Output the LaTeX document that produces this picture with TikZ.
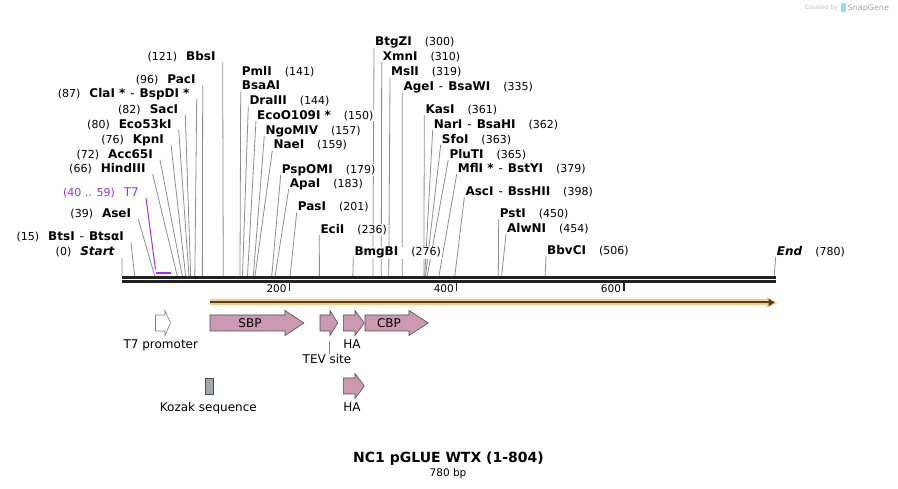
\documentclass[tikz,border=0pt]{standalone}
\usepackage{fontspec}
\setmainfont{DejaVu Sans}
\usetikzlibrary{arrows.meta,backgrounds}
\definecolor{cutgray}{HTML}{8E8E8E}
\definecolor{featpink}{HTML}{CC99B2}
\definecolor{featedge}{HTML}{4D4D4D}
\definecolor{kozakgray}{HTML}{A0A7AF}
\definecolor{t7purple}{HTML}{9B30FF}
\definecolor{orfcol}{HTML}{FFCB7A}
\definecolor{orfdark}{HTML}{4A4030}
\definecolor{bbdark}{HTML}{222222}
\newcommand\bpnum[1]{{\mdseries\fontsize{11}{13}\selectfont(#1)}}
\newcommand\esep{\hspace{5pt}{\mdseries -}\hspace{5pt}}
% feature arrow: style, start, head start, tip, centre line
\newcommand\featarrow[5]{%
  \draw[#1] (#2,{#5-8}) -- (#3,{#5-8}) -- (#3,{#5-12.5}) -- (#4,#5) -- (#3,{#5+12.5}) -- (#3,{#5+8}) -- (#2,{#5+8}) -- cycle;}
\tikzset{
    cutline/.style={draw=cutgray, line width=0.8pt}, % line from a site to its label
    llab/.style={anchor=base east, inner xsep=1pt, inner ysep=0pt, fill=white, font=\fontsize{12}{14}\selectfont\bfseries},
    rlab/.style={anchor=base west, inner xsep=1pt, inner ysep=0pt, fill=white, font=\fontsize{12}{14}\selectfont\bfseries},
    bbline/.style={draw=bbdark, line width=2.7pt},
    tickline/.style={draw=bbdark, line width=1.6pt},
    ticklab/.style={anchor=base east, inner sep=0pt, font=\fontsize{10.5}{12}\selectfont},
    feat/.style={fill=featpink, draw=featedge, line width=0.6pt},
    t7feat/.style={fill=white, draw=gray, line width=0.6pt},
    flab/.style={anchor=base, inner sep=1pt, font=\fontsize{12}{14}\selectfont},
    fin/.style={anchor=center, inner sep=0pt, font=\fontsize{12}{14}\selectfont}
}

\begin{document}
\begin{tikzpicture}[x=1pt, y=-1pt]
    \def\xo{122.1} \def\bpw{0.836} \def\ytop{276}
    \useasboundingbox (0,0) rectangle (898,489);

    % backbone and ticks
    \draw[bbline] (122,277.4) -- (775.7,277.4);
    \draw[bbline] (122,281.4) -- (775.7,281.4);
    \foreach \t in {200,400,600} {
        \coordinate (tk\t) at ({\xo+\t*\bpw},282.5);
        \draw[tickline] (tk\t) -- ++(0,8.5);
        \node[ticklab] (tl\t) at ([xshift=-2.5pt,yshift=-10pt]tk\t) {\t};
    }

    % enzymes, left side
    \foreach \lx/\ly/\site/\nm [count=\i] in {216.7/61/121/BbsI, 196.7/83.3/96/PacI, 190.7/97.7/87/{ClaI *\esep BspDI *},
        179.3/113.3/82/SacI, 172.7/128.3/80/Eco53kI, 165/143.3/76/KpnI, 154/158.3/72/Acc65I, 146.7/172.7/66/HindIII,
        132.3/217.7/39/AseI, 125/241/15/{BtsI\esep BtsαI}, 116/256/0/{\textit{Start}}} {
        \coordinate (ls\i) at ({\xo+\site*\bpw},\ytop);
        \node[llab] (l\i) at (\lx,\ly) {\bpnum{\site}\hspace{9pt}\nm};
        \begin{scope}[on background layer]
            \draw[cutline] (ls\i) -- ([shift={(6pt,-1.5pt)}]l\i.base east);
        \end{scope}
    }

    % enzymes, right side
    \foreach \lx/\ly/\site/\nm [count=\i] in {248.3/105/144/DraIII, 256/119.3/150/{EcoO109I *}, 264.3/134.3/157/NgoMIV,
        272.3/149/159/NaeI, 280.7/173.3/179/PspOMI, 288.7/187.7/183/ApaI, 296.7/211/201/PasI, 319.3/233.3/236/EciI,
        353.3/256/276/BmgBI, 374/46/300/BtgZI, 381.7/60.7/310/XmnI, 390/76/319/MslI, 402.3/91/335/{AgeI\esep BsaWI},
        424.3/113.3/361/KasI, 432.7/128.3/362/{NarI\esep BsaHI}, 440.7/143.3/363/SfoI, 448.3/158.3/365/PluTI,
        456.7/172.7/379/{MflI *\esep BstYI}, 464.3/196/398/{AscI\esep BssHII}, 498.7/217.3/450/PstI,
        506/232.7/454/AlwNI, 546/255/506/BbvCI, 775.7/255.7/780/{\textit{End}}} {
        \coordinate (rs\i) at ({\xo+\site*\bpw},\ytop);
        \node[rlab] (r\i) at (\lx,\ly) {\nm\hspace{13pt}\bpnum{\site}};
        \begin{scope}[on background layer]
            \draw[cutline] (rs\i) -- ([shift={(0pt,-1.5pt)}]r\i.base west);
        \end{scope}
    }
    \node[rlab] (pml) at (240.7,75.7) {PmlI\hspace{13pt}\bpnum{141}};
    \node[rlab] (bsaa) at (240.7,90) {BsaAI};
    \coordinate (bsaas) at ({\xo+141*\bpw},\ytop);
    \begin{scope}[on background layer]
        \draw[cutline] (bsaas) -- ([shift={(0pt,-1.5pt)}]bsaa.base west);
    \end{scope}

    % T7 primer site
    \coordinate (t7L) at ({\xo+40*\bpw},272.7);
    \coordinate (t7R) at ({\xo+59*\bpw},272.7);
    \node[llab, text=t7purple, font=\fontsize{12}{14}\selectfont] (t7lab) at (140,196.7) {\bpnum{40 .. 59}\hspace{9pt}T7};
    \draw[t7purple, line width=2pt] (t7L) -- (t7R);
    \draw[t7purple, line width=1pt] ([shift={(6pt,-1.5pt)}]t7lab.base east) -- ([yshift=3pt]t7L);

    % ORF
    \coordinate (orfS) at (209.5,302.5);
    \coordinate (orfE) at (775.7,302.5);
    \draw[orfcol, line width=6pt] (orfS) -- ([xshift=-6pt]orfE);
    \fill[orfcol] ([shift={(-9pt,5.5pt)}]orfE) -- ([xshift=1.5pt]orfE) -- ([shift={(-9pt,-5.5pt)}]orfE) -- cycle;
    \draw[orfdark, line width=2pt, -{Triangle[length=6pt,width=7pt]}] (orfS) -- ([xshift=-1pt]orfE);

    % features
    \featarrow{t7feat}{155.5}{165}{170.5}{323}
    \featarrow{feat}{210}{285}{304}{323}
    \featarrow{feat}{320}{330}{337.7}{323}
    \featarrow{feat}{343.3}{355}{364.3}{323}
    \featarrow{feat}{365}{409}{428.3}{323}
    \featarrow{feat}{343.3}{355}{364.3}{386}
    \draw[fill=kozakgray, draw=featedge, line width=0.6pt] (205.7,378.3) rectangle (213.7,394);
    \node[fin] (sbp) at (250,323) {SBP};
    \node[fin] (cbp) at (389,323) {CBP};
    \node[flab] (t7prom) at (160.8,348.3) {T7 promoter};
    \node[flab] (ha1) at (352,348.3) {HA};
    \coordinate (tevpt) at (329,341.5);
    \node[flab] (tev) at (327,364) {TEV site};
    \draw[draw=gray, line width=0.8pt] (tevpt) -- (tevpt |- tev.north);
    \node[flab] (kozak) at (208.3,411.7) {Kozak sequence};
    \node[flab] (ha2) at (352,411.7) {HA};

    % title
    \node[anchor=base, inner sep=0pt, font=\fontsize{14}{16}\selectfont\bfseries] (title) at (448.5,462) {NC1 pGLUE WTX (1-804)};
    \node[anchor=base, inner sep=0pt, font=\fontsize{10.5}{12}\selectfont] (size) at (448,476) {780 bp};

    % watermark
    \node[anchor=base east, inner sep=0pt, text=black!25, font=\fontsize{6}{7}\selectfont] (made) at (838,10) {Created by};
    \fill[cyan!40] (841,3) rectangle (845.5,12);
    \node[anchor=base west, inner sep=0pt, text=black!35, font=\fontsize{8}{9}\selectfont] (sg) at (847.5,10.5) {SnapGene};
\end{tikzpicture}
\end{document}
